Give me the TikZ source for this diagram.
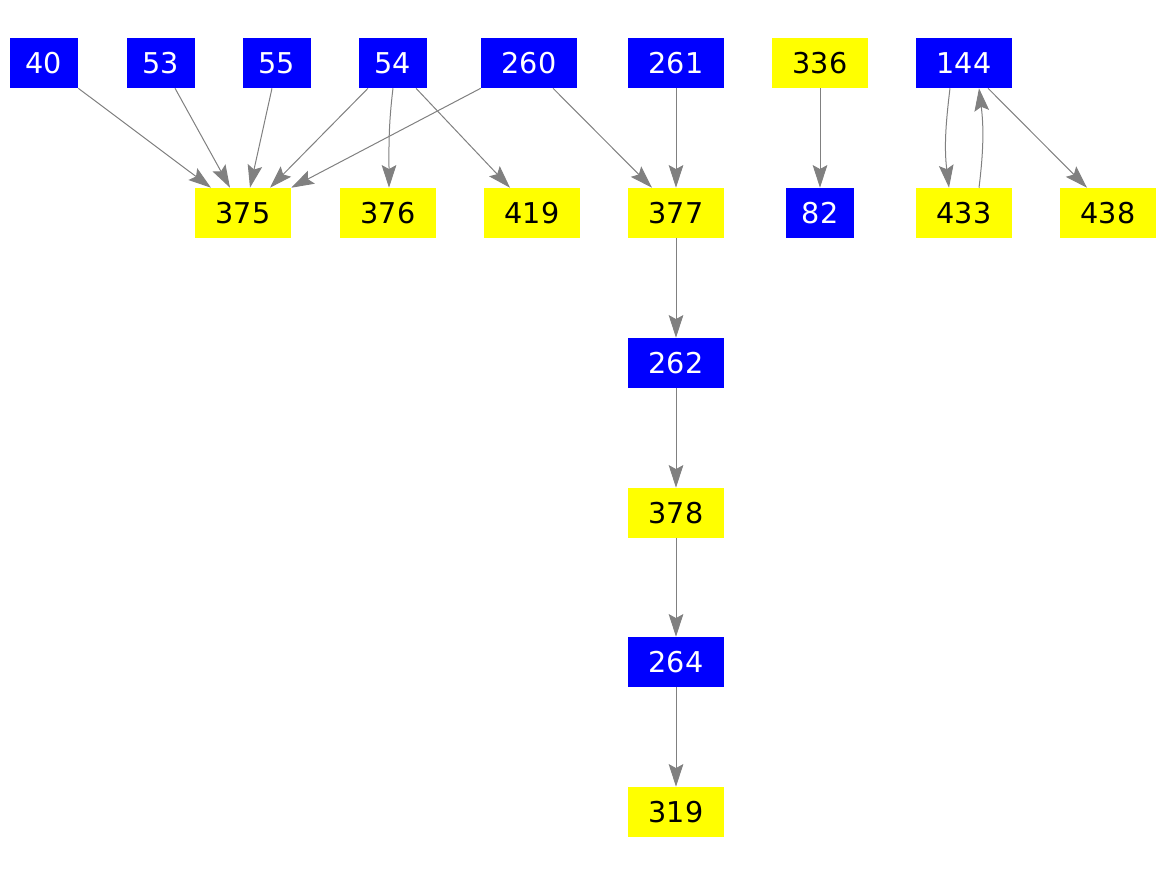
\documentclass[tikz,border=0pt]{standalone}
\usepackage{fontspec}
\setmainfont{DejaVu Sans}
\usetikzlibrary{arrows.meta}
\definecolor{nodeblue}{HTML}{0000FF}
\definecolor{nodeyellow}{HTML}{FFFF00}
\definecolor{edgegray}{HTML}{808080}
\tikzset{
  bx/.style={inner sep=0pt, minimum height=37.5pt, font=\fontsize{21.5}{25}\selectfont},
  blu/.style={bx, fill=nodeblue, text=white},
  yel/.style={bx, fill=nodeyellow, text=black},
  nar/.style={minimum width=51pt},
  wid/.style={minimum width=72pt},
  arr/.style={-{Stealth[length=17pt, width=11pt, inset=3pt]}, line width=0.75pt, color=edgegray},
}
\begin{document}
\begin{tikzpicture}[x=0.75pt, y=-0.75pt]
    \useasboundingbox (0,0) rectangle (1167,875);
    % top row
    \node[blu, nar] (n40) at (44,63) {40};
    \node[blu, nar] (n53) at (160.5,63) {53};
    \node[blu, nar] (n55) at (277,63) {55};
    \node[blu, nar] (n54) at (393,63) {54};
    \node[blu, wid] (n260) at (529,63) {260};
    \node[blu, wid] (n261) at (676,63) {261};
    \node[yel, wid] (n336) at (820,63) {336};
    \node[blu, wid] (n144) at (964,63) {144};
    % second row
    \node[yel, wid] (n375) at (243,213) {375};
    \node[yel, wid] (n376) at (388,213) {376};
    \node[yel, wid] (n419) at (532,213) {419};
    \node[yel, wid] (n377) at (676,213) {377};
    \node[blu, nar] (n82) at (820,213) {82};
    \node[yel, wid] (n433) at (964,213) {433};
    \node[yel, wid] (n438) at (1108,213) {438};
    % chain
    \node[blu, wid] (n262) at (676,363) {262};
    \node[yel, wid] (n378) at (676,513) {378};
    \node[blu, wid] (n264) at (676,662) {264};
    \node[yel, wid] (n319) at (676,812) {319};
    % edges
    \draw[arr] (n40.south east) -- ([xshift=-24pt]n375.north);
    \draw[arr] ([xshift=10.9pt]n53.south) -- ([xshift=-9.75pt]n375.north);
    \draw[arr] ([xshift=-3.75pt]n55.south) -- ([xshift=5.25pt]n375.north);
    \draw[arr] ([xshift=-18.75pt]n54.south) -- ([xshift=20.25pt]n375.north);
    \draw[arr] (n260.south west) -- (n375.north east);
    \draw[arr] (n54.south) to[out=-97, in=90] ([xshift=0.75pt]n376.north);
    \draw[arr] ([xshift=17.25pt]n54.south) -- ([xshift=-16.5pt]n419.north);
    \draw[arr] ([xshift=18pt]n260.south) -- ([xshift=-18pt]n377.north);
    \draw[arr] (n261) -- (n377);
    \draw[arr] (n336) -- (n82);
    \draw[arr] ([xshift=-10.5pt]n144.south) to[out=-97, in=97] ([xshift=-11.25pt]n433.north);
    \draw[arr] ([xshift=11.25pt]n433.north) to[out=83, in=-83] ([xshift=11.25pt]n144.south);
    \draw[arr] ([xshift=18pt]n144.south) -- ([xshift=-15.75pt]n438.north);
    \draw[arr] (n377) -- (n262);
    \draw[arr] (n262) -- (n378);
    \draw[arr] (n378) -- (n264);
    \draw[arr] (n264) -- (n319);
  \end{tikzpicture}
\end{document}
